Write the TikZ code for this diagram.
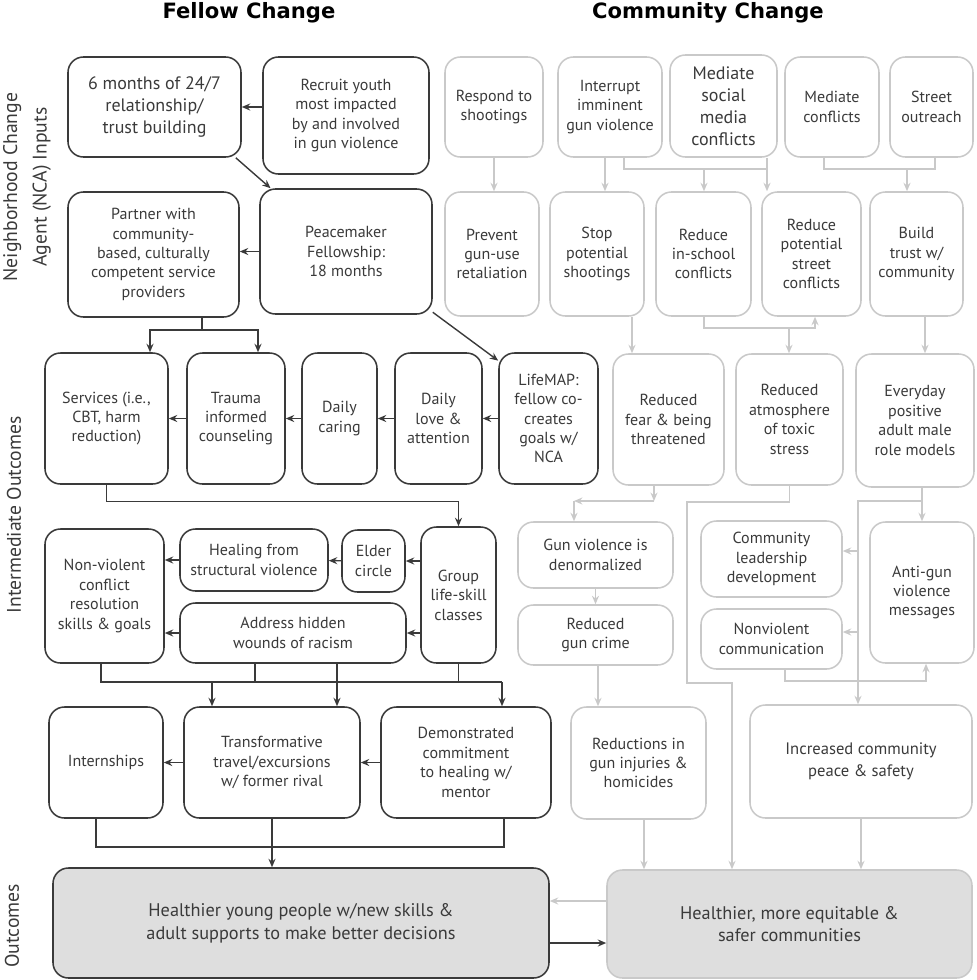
\documentclass[tikz,border=0pt]{standalone}
\usepackage{fontspec}
\setmainfont{PT Sans}
\newfontfamily\headfont{DejaVu Sans}
\usepackage{tikz}
\usetikzlibrary{arrows.meta, positioning, calc}
\definecolor{dark}{HTML}{3A3A3A}
\definecolor{soft}{HTML}{C9C9C9}
\definecolor{shade}{HTML}{DEDEDE}
\tikzstyle{fbox}    = [rectangle, rounded corners=11pt, draw=dark, line width=1.1pt,
                       align=center, text=dark, inner sep=2pt,
                       font=\fontsize{11.4}{13.8}\selectfont]
\tikzstyle{cbox}    = [fbox, draw=soft]
\tikzstyle{bigtext} = [font=\fontsize{12.8}{15.6}\selectfont]
\tikzstyle{outtext} = [font=\fontsize{13}{16.2}\selectfont]
\tikzstyle{head}    = [font={\headfont\bfseries\fontsize{15}{18}\selectfont}, text=black]
\tikzstyle{side}    = [rotate=90, align=center, text=dark, font=\fontsize{14}{21}\selectfont]
\tikzstyle{arrow}   = [-{Stealth[length=6pt,width=5pt]}, line width=1pt, color=dark]
\tikzstyle{link}    = [line width=1pt, color=dark]
\tikzstyle{garrow}  = [arrow, color=soft]
\tikzstyle{glink}   = [link, color=soft]
\tikzset{wh/.style 2 args={minimum width=#1*0.025cm, minimum height=#2*0.025cm}}

\begin{document}
\begin{tikzpicture}[x=0.025cm, y=-0.025cm]
  \useasboundingbox (0,0) rectangle (976,980);

  %% Headings
  \node[head] (tfellow) at (249,12.5) {Fellow Change};
  \node[head] (tcomm) at (708,12.5) {Community Change};
  \node[side] (linputs) at (27,187) {Neighborhood Change\\Agent (NCA) Inputs};
  \node[side] (linter) at (14,515) {Intermediate Outcomes};
  \node[side] (lout) at (12,926) {Outcomes};

  %% Fellow change -- inputs
  \node[fbox, bigtext, wh={173}{100}] (months) at (154.5,107)
        {6 months of 24/7\\relationship/\\trust building};
  \node[fbox, wh={166}{117}] (recruit) at (346,115.5)
        {Recruit youth\\most impacted\\by and involved\\in gun violence};
  \node[fbox, wh={171}{125}] (partner) at (153.5,254.5)
        {Partner with\\community-\\based, culturally\\competent service\\providers};
  \node[fbox, wh={172}{125}] (peace) at (346,251.5)
        {Peacemaker\\Fellowship:\\18 months};

  %% Fellow change -- intermediate
  \node[fbox, wh={123}{131}] (services) at (106.5,418.5)
        {Services (i.e.,\\CBT, harm\\reduction)};
  \node[fbox, wh={98}{131}] (trauma) at (236,418.5) {Trauma\\informed\\counseling};
  \node[fbox, wh={75}{131}] (caring) at (339.5,418.5) {Daily\\caring};
  \node[fbox, wh={87}{131}] (love) at (438.5,418.5) {Daily\\love \&\\attention};
  \node[fbox, wh={99}{131}] (lifemap) at (548.5,418.5)
        {LifeMAP:\\fellow co-\\creates\\goals w/\\NCA};
  \node[fbox, wh={119}{134}] (nonviol) at (104.5,596)
        {Non-violent\\conflict\\resolution\\skills \& goals};
  \node[fbox, wh={148}{62}] (healing) at (254,560) {Healing from\\structural violence};
  \node[fbox, wh={63}{62}] (elder) at (373.5,561) {Elder\\circle};
  \node[fbox, wh={226}{60}] (address) at (293,633) {Address hidden\\wounds of racism};
  \node[fbox, wh={75}{136}] (group) at (458.5,595) {Group\\life-skill\\classes};
  \node[fbox, wh={114}{111}] (intern) at (106,762.5) {Internships};
  \node[fbox, wh={176}{111}] (travel) at (272,762.5)
        {Transformative\\travel/excursions\\w/ former rival};
  \node[fbox, wh={170}{111}] (demo) at (466,762.5)
        {Demonstrated\\commitment\\to healing w/\\mentor};

  %% Community change -- inputs
  \node[cbox, wh={98}{100}] (respond) at (494,107) {Respond to\\shootings};
  \node[cbox, wh={104}{100}] (interrupt) at (610,107) {Interrupt\\imminent\\gun violence};
  \node[cbox, bigtext, wh={107}{102}] (socmed) at (723.5,106)
        {Mediate\\social\\media\\conflicts};
  \node[cbox, wh={94}{100}] (mediate) at (832,107) {Mediate\\conflicts};
  \node[cbox, wh={83}{100}] (street) at (931.5,107) {Street\\outreach};
  \node[cbox, wh={94}{124}] (prevent) at (492,254) {Prevent\\gun-use\\retaliation};
  \node[cbox, wh={94}{124}] (stop) at (597,254) {Stop\\potential\\shootings};
  \node[cbox, wh={95}{124}] (inschool) at (703.5,254) {Reduce\\in-school\\conflicts};
  \node[cbox, wh={99}{124}] (pstreet) at (811.5,254) {Reduce\\potential\\street\\conflicts};
  \node[cbox, wh={93}{124}] (trust) at (916.5,254) {Build\\trust w/\\community};

  %% Community change -- intermediate
  \node[cbox, wh={111}{131}] (fear) at (668.5,419.5) {Reduced\\fear \& being\\threatened};
  \node[cbox, wh={107}{131}] (atmos) at (789.5,419.5)
        {Reduced\\atmosphere\\of toxic\\stress};
  \node[cbox, wh={118}{133}] (everyday) at (915,420.5)
        {Everyday\\positive\\adult male\\role models};
  \node[cbox, wh={155}{66}] (denorm) at (595.5,555) {Gun violence is\\denormalized};
  \node[cbox, wh={155}{60}] (guncrime) at (595.5,635) {Reduced\\gun crime};
  \node[cbox, wh={141}{76}] (leader) at (771.5,559) {Community\\leadership\\development};
  \node[cbox, wh={141}{60}] (nvc) at (771.5,639) {Nonviolent\\communication};
  \node[cbox, wh={104}{141}] (antigun) at (922,592.5) {Anti-gun\\violence\\messages};
  \node[cbox, wh={135}{112}] (reduct) at (638.5,763)
        {Reductions in\\gun injuries \&\\homicides};
  \node[cbox, font=\fontsize{11.8}{15.6}\selectfont, wh={222}{113}] (peace2) at (861,761.5)
        {Increased community\\peace \& safety};

  %% Outcomes
  \node[fbox, outtext, fill=shade, wh={496}{110}] (young) at (301,923)
        {Healthier young people w/new skills \&\\adult supports to make better decisions};
  \node[cbox, outtext, fill=shade, wh={365}{108}] (comm) at (789.5,924)
        {Healthier, more equitable \&\\safer communities};

  %% Junctions
  \coordinate (pj) at (202,330);
  \coordinate (bL) at (101,682);  \coordinate (bR) at (502,682);
  \coordinate (aL) at (255,682);  \coordinate (aR) at (337,682);
  \coordinate (tL) at (212,682);
  \coordinate (cL) at (96,847);   \coordinate (cR) at (504,847);
  \coordinate (ye) at ($(young.east)+(0,20)$);
  \coordinate (cw) at ($(comm.west)+(0,-23)$);
  \coordinate (k1) at (605,169);
  \coordinate (m1) at (624,169);  \coordinate (m2) at (767,169);
  \coordinate (m3) at (704,169);
  \coordinate (n1) at (824,169);  \coordinate (n2) at (935,169);
  \coordinate (n3) at (907,169);
  \coordinate (s1) at (632,335);
  \coordinate (p1) at (704,328);  \coordinate (p2) at (815,328);
  \coordinate (p3) at (789,328);
  \coordinate (t1) at (925,335);
  \coordinate (f1) at (654,501);  \coordinate (f2) at (574,501);
  \coordinate (q1) at (687,502);  \coordinate (q2) at (687,683);
  \coordinate (q3) at (732,683);
  \coordinate (e2) at (858,501);  \coordinate (e3) at (858,551);
  \coordinate (e4) at (858,632);
  \coordinate (v1) at (785,681);  \coordinate (v2) at (926,681);
  \coordinate (w1) at (598,690);  \coordinate (w2) at (644,840);

  %% Fellow arrows
  \draw[arrow] (recruit.west |- months.east) -- (months.east);
  \draw[arrow] (months.-32) -- (peace.140);
  \draw[arrow] (peace.west) -- (peace.west -| partner.east);
  \draw[link] (partner.south -| pj) -- (pj);
  \draw[arrow] (pj) -| ($(services.north)+(43.5,0)$);
  \draw[arrow] (pj) -| ($(trauma.north)+(22,0)$);
  \draw[arrow] (peace.-35) -- (lifemap.131);
  \draw[arrow] (lifemap) -- (love);
  \draw[arrow] (love) -- (caring);
  \draw[arrow] (caring) -- (trauma);
  \draw[arrow] (trauma) -- (services);
  \draw[arrow] (services.south) -- ++(0,17) -| (group.north);
  \draw[arrow] (group.west |- elder.east) -- (elder.east);
  \draw[arrow] (elder) -- (healing);
  \draw[arrow] (healing.west) -- (healing.west -| nonviol.east);
  \draw[arrow] (group.west |- address.east) -- (address.east);
  \draw[arrow] (address.west) -- (address.west -| nonviol.east);
  \draw[link] (nonviol.south -| bL) -- (bL) -- (bR);
  \draw[link] (address.south -| aL) -- (aL);
  \draw[link] (group.south) -- (group.south |- bR);
  \draw[arrow] (address.south -| aR) -- (travel.north -| aR);
  \draw[arrow] (tL) -- (travel.north -| tL);
  \draw[arrow] (bR) -- (demo.north -| bR);
  \draw[arrow] (demo) -- (travel);
  \draw[arrow] (travel) -- (intern);
  \draw[link] (intern.south -| cL) -- (cL) -- (cR) -- (demo.south -| cR);
  \draw[arrow] (travel.south) -- (young.north -| travel.south);
  \draw[arrow] (ye) -- (ye -| comm.west);

  %% Community arrows
  \draw[garrow] (respond.south) -- (respond.south |- prevent.north);
  \draw[garrow] (interrupt.south -| k1) -- (stop.north -| k1);
  \draw[glink] (interrupt.south -| m1) -- (m1) -- (m2);
  \draw[garrow] (socmed.south -| m2) -- (pstreet.north -| m2);
  \draw[garrow] (m3) -- (inschool.north -| m3);
  \draw[glink] (mediate.south -| n1) -- (n1) -- (n2) -- (street.south -| n2);
  \draw[garrow] (n3) -- (trust.north -| n3);
  \draw[garrow] (stop.south -| s1) -- (fear.north -| s1);
  \draw[garrow] (inschool.south -| p1) -- (p1) -- (p2) -- (pstreet.south -| p2);
  \draw[garrow] (p3) -- (atmos.north -| p3);
  \draw[garrow] (trust.south -| t1) -- (everyday.north -| t1);
  \draw[garrow] (fear.south -| f1) -- (f1);
  \draw[garrow] (f1) -- (f2);
  \draw[garrow] (f2) -- (denorm.north -| f2);
  \draw[garrow] (atmos.south) |- (q1) -- (q2) -- (q3) -- (comm.north -| q3);
  \draw[garrow] (antigun.north |- everyday.south) -- (antigun.north);
  \draw[garrow] (antigun.north |- e2) -- (e2) -- (peace2.north -| e2);
  \draw[garrow] (e3) -- (leader.east |- e3);
  \draw[garrow] (e4) -- (nvc.east |- e4);
  \draw[garrow] (nvc.south -| v1) -- (v1) -- (v2) -- (antigun.south -| v2);
  \draw[garrow] (denorm) -- (guncrime);
  \draw[garrow] (guncrime.south -| w1) -- (reduct.north -| w1);
  \draw[garrow] (reduct.south -| w2) -- (comm.north -| w2);
  \draw[garrow] (peace2.south) -- (peace2.south |- comm.north);
  \draw[garrow] (cw) -- (cw -| young.east);

\end{tikzpicture}
\end{document}
